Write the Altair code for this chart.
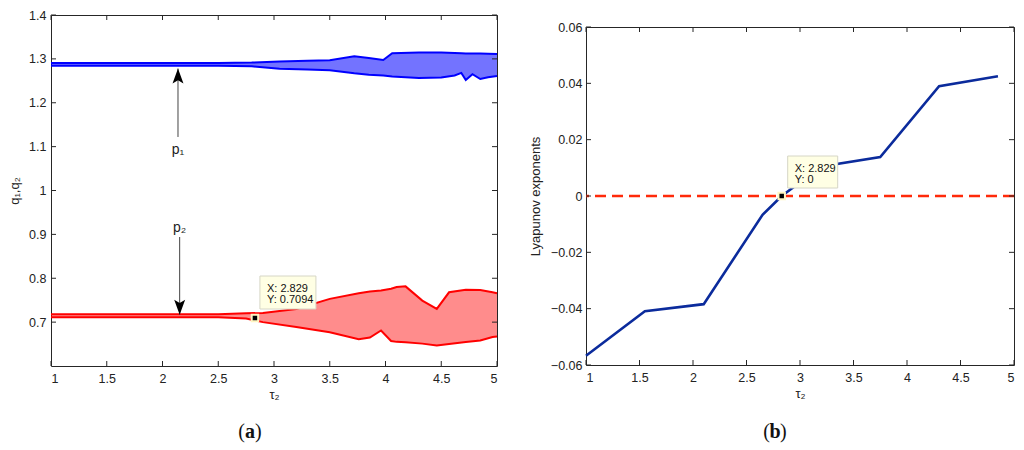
import altair as alt
import pandas as pd

FONT = "Liberation Sans"

# ---------------- data ----------------
x_ticks = [1, 1.5, 2, 2.5, 3, 3.5, 4, 4.5, 5]
y1_ticks = [0.7, 0.8, 0.9, 1.0, 1.1, 1.2, 1.3, 1.4]
y2_ticks = [-0.06, -0.04, -0.02, 0.0, 0.02, 0.04, 0.06]

# envelope of the blue (p1) scatter band
blue_x = [1.0, 2.5, 2.8, 3.05, 3.3, 3.5, 3.72, 3.85, 3.98, 4.06, 4.3, 4.5, 4.62, 4.68, 4.72, 4.78, 4.85, 4.92, 5.0]
blue_hi = [1.2905, 1.2905, 1.2915, 1.294, 1.2955, 1.297, 1.306, 1.302, 1.2975, 1.313, 1.3145, 1.3145, 1.3135, 1.313, 1.3125, 1.312, 1.312, 1.3115, 1.311]
blue_lo = [1.2845, 1.2845, 1.2830, 1.2776, 1.276, 1.274, 1.267, 1.264, 1.262, 1.260, 1.2565, 1.2575, 1.262, 1.268, 1.252, 1.265, 1.254, 1.258, 1.261]

# envelope of the red (p2) scatter band
red_x = [1.0, 2.5, 2.75, 2.9, 3.2, 3.5, 3.76, 3.86, 3.96, 4.05, 4.1, 4.18, 4.33, 4.46, 4.57, 4.72, 4.85, 4.96, 5.0]
red_hi = [0.718, 0.718, 0.720, 0.721, 0.730, 0.753, 0.766, 0.770, 0.772, 0.776, 0.780, 0.7815, 0.749, 0.730, 0.768, 0.774, 0.773, 0.768, 0.766]
red_lo = [0.711, 0.711, 0.708, 0.700, 0.689, 0.677, 0.661, 0.665, 0.681, 0.657, 0.655, 0.654, 0.651, 0.647, 0.650, 0.6545, 0.658, 0.666, 0.667]

# Lyapunov exponent curve
ly_x = [1.0, 1.55, 2.1, 2.65, 2.829, 3.2, 3.75, 4.3, 4.85]
ly_y = [-0.0567, -0.0409, -0.0384, -0.0067, 0.0, 0.0105, 0.0138, 0.0390, 0.0425]

# arrows / labels in panel (a)
p_labels = ["p\u2081", "p\u2082"]
p_x = [2.139, 2.154]
p_tip = [1.278, 0.717]
p_tail = [1.122, 0.894]
p_label_y = [1.093, 0.914]
p_dir = ["up", "down"]

# data tips
tip_a = (2.829, 0.7094)
tip_b = (2.829, 0)

W1, H1 = 446, 351
W2, H2 = 428, 338
BOX = "#262626"
TXT = "#222222"

xs1 = alt.Scale(domain=[1, 5], nice=False, zero=False)
ys1 = alt.Scale(domain=[0.6, 1.4], nice=False, zero=False)
xs2 = alt.Scale(domain=[1, 5], nice=False, zero=False)
ys2 = alt.Scale(domain=[-0.06, 0.06], nice=False, zero=False)

AX = dict(format="~g", grid=False, ticks=False, domain=False, labelFont=FONT, titleFont=FONT,
          labelFontSize=12.5, titleFontSize=13, labelColor=TXT, titleColor=TXT,
          titleFontWeight="normal")
xax1 = alt.Axis(values=x_ticks, title="\u03c4\u2082", labelPadding=6, titlePadding=4, **AX)
yax1 = alt.Axis(values=y1_ticks, title="q\u2081,q\u2082", labelPadding=5, titlePadding=7, **AX)
xax2 = alt.Axis(values=x_ticks, title="\u03c4\u2082", labelPadding=6, titlePadding=4, **AX)
yax2 = alt.Axis(values=y2_ticks, title="Lyapunov exponents", labelPadding=4, titlePadding=8, **AX)

P1 = dict(xs=xs1, ys=ys1, xa=xax1, ya=yax1)
P2 = dict(xs=xs2, ys=ys2, xa=xax2, ya=yax2)


def X(f, p):
    return alt.X(f, scale=p["xs"], axis=p["xa"])


def Y(f, p):
    return alt.Y(f, scale=p["ys"], axis=p["ya"])


def inward_ticks(p, w, h, yt):
    xdf = pd.DataFrame({"t": x_ticks})
    ydf = pd.DataFrame({"t": yt})
    L = 5
    common = dict(color=BOX, strokeWidth=1)
    b = alt.Chart(xdf).mark_rule(**common).encode(
        x=X("t:Q", p), y=alt.value(h), y2=alt.value(h - L))
    t = alt.Chart(xdf).mark_rule(**common).encode(
        x=X("t:Q", p), y=alt.value(0), y2=alt.value(L))
    l = alt.Chart(ydf).mark_rule(**common).encode(
        y=Y("t:Q", p), x=alt.value(0), x2=alt.value(L))
    r = alt.Chart(ydf).mark_rule(**common).encode(
        y=Y("t:Q", p), x=alt.value(w), x2=alt.value(w - L))
    return [b, t, l, r]


def panel_label(letter, cx, cy):
    base = dict(font="Liberation Serif", fontSize=20, color="#111", baseline="middle")
    one = pd.DataFrame({"a": [0]})
    o = alt.Chart(one).mark_text(align="right", **base).encode(
        x=alt.value(cx - 5), y=alt.value(cy), text=alt.value("("))
    m = alt.Chart(one).mark_text(align="center", fontWeight="bold", **base).encode(
        x=alt.value(cx), y=alt.value(cy), text=alt.value(letter))
    c = alt.Chart(one).mark_text(align="left", **base).encode(
        x=alt.value(cx + 5), y=alt.value(cy), text=alt.value(")"))
    return [o, m, c]


def datatip(tx, ty, p, dx0, dx1, dy0, dy1):
    df = pd.DataFrame({"x": [tx], "y": [ty], "l1": [f"X: {tx}"], "l2": [f"Y: {ty}"]})
    box = alt.Chart(df).mark_rect(fill="#ffffe4", stroke="#d6d6c6", strokeWidth=1,
                                  xOffset=dx0, x2Offset=dx1, yOffset=dy0, y2Offset=dy1).encode(
        x=X("x:Q", p), x2="x:Q", y=Y("y:Q", p), y2="y:Q")
    t1 = alt.Chart(df).mark_text(align="left", baseline="middle", dx=dx0 + 7, dy=dy0 + 13,
                                 font=FONT, fontSize=11, color="#111").encode(
        x=X("x:Q", p), y=Y("y:Q", p), text="l1:N")
    t2 = alt.Chart(df).mark_text(align="left", baseline="middle", dx=dx0 + 7, dy=dy0 + 24,
                                 font=FONT, fontSize=11, color="#111").encode(
        x=X("x:Q", p), y=Y("y:Q", p), text="l2:N")
    mk = alt.Chart(df).mark_square(size=42, filled=True, fill="#000000", stroke="#fff6c2",
                                   strokeWidth=2, opacity=1).encode(
        x=X("x:Q", p), y=Y("y:Q", p))
    return [box, t1, t2, mk]


# ---------------- panel (a) ----------------
blue_df = pd.DataFrame({"x": blue_x, "lo": blue_lo, "hi": blue_hi})
red_df = pd.DataFrame({"x": red_x, "lo": red_lo, "hi": red_hi})


def band(df, color, op):
    area = alt.Chart(df).mark_area(color=color, opacity=op).encode(
        x=X("x:Q", P1), y=Y("lo:Q", P1), y2="hi:Q")
    e1 = alt.Chart(df).mark_line(color=color, strokeWidth=2).encode(
        x=X("x:Q", P1), y=Y("hi:Q", P1))
    e2 = alt.Chart(df).mark_line(color=color, strokeWidth=2).encode(
        x=X("x:Q", P1), y=Y("lo:Q", P1))
    return [area, e1, e2]


arr_df = pd.DataFrame({"x": p_x, "tip": p_tip, "tail": p_tail, "ly": p_label_y,
                       "lab": p_labels, "dir": p_dir})
shaft = alt.Chart(arr_df).mark_rule(color="#444444", strokeWidth=1).encode(
    x=X("x:Q", P1), y=Y("tip:Q", P1), y2="tail:Q")
head_up = alt.Chart(arr_df).transform_filter(alt.datum.dir == "up").mark_point(
    shape="M0,-1L0.73,1L0,0.55L-0.73,1Z", size=225, filled=True, color="#000000", opacity=1,
    yOffset=7.5).encode(x=X("x:Q", P1), y=Y("tip:Q", P1))
head_dn = alt.Chart(arr_df).transform_filter(alt.datum.dir == "down").mark_point(
    shape="M0,1L0.73,-1L0,-0.55L-0.73,-1Z", size=225, filled=True, color="#000000", opacity=1,
    yOffset=-7.5).encode(x=X("x:Q", P1), y=Y("tip:Q", P1))
plab = alt.Chart(arr_df).mark_text(font=FONT, fontSize=14, color=TXT, baseline="middle").encode(
    x=X("x:Q", P1), y=Y("ly:Q", P1), text="lab:N")

left = alt.layer(
    *band(blue_df, "#0000ff", 0.55),
    *band(red_df, "#ff0000", 0.45),
    shaft, head_up, head_dn, plab,
    *datatip(tip_a[0], tip_a[1], P1, 5, 61, -42, -9),
    *inward_ticks(P1, W1, H1, y1_ticks),
    *panel_label("a", 199, H1 + 66),
).properties(width=W1, height=H1)

# ---------------- panel (b) ----------------
ly_df = pd.DataFrame({"x": ly_x, "y": ly_y})
ly_line = alt.Chart(ly_df).mark_line(color="#0b2b9c", strokeWidth=2.6).encode(
    x=X("x:Q", P2), y=Y("y:Q", P2))
zero_line = alt.Chart(pd.DataFrame({"y": [0.0]})).mark_rule(
    color="#ff2a0a", strokeWidth=2.6, strokeDash=[11, 6]).encode(y=Y("y:Q", P2))

right = alt.layer(
    ly_line, zero_line,
    *datatip(tip_b[0], tip_b[1], P2, 6, 56, -40, -8),
    *inward_ticks(P2, W2, H2, y2_ticks),
    *panel_label("b", 189, H2 + 67),
).properties(width=W2, height=H2)

spacer = alt.Chart(pd.DataFrame({"a": [0]})).mark_point(opacity=0).encode(
    x=alt.value(0), y=alt.value(0)
).properties(width=W2, height=1, view=alt.ViewBackground(stroke=None))

right_col = alt.vconcat(spacer, right, spacing=2)

chart = alt.hconcat(left, right_col, spacing=26).properties(padding=0).configure_view(
    stroke=BOX, strokeWidth=1
).configure_axis(
    labelFont=FONT, titleFont=FONT, labelFontSize=12.5, titleFontSize=13,
    labelColor=TXT, titleColor=TXT, titleFontWeight="normal",
    ticks=False, domain=False, grid=False,
)

chart.save("out.html", embed_options={"renderer": "svg", "actions": False})
